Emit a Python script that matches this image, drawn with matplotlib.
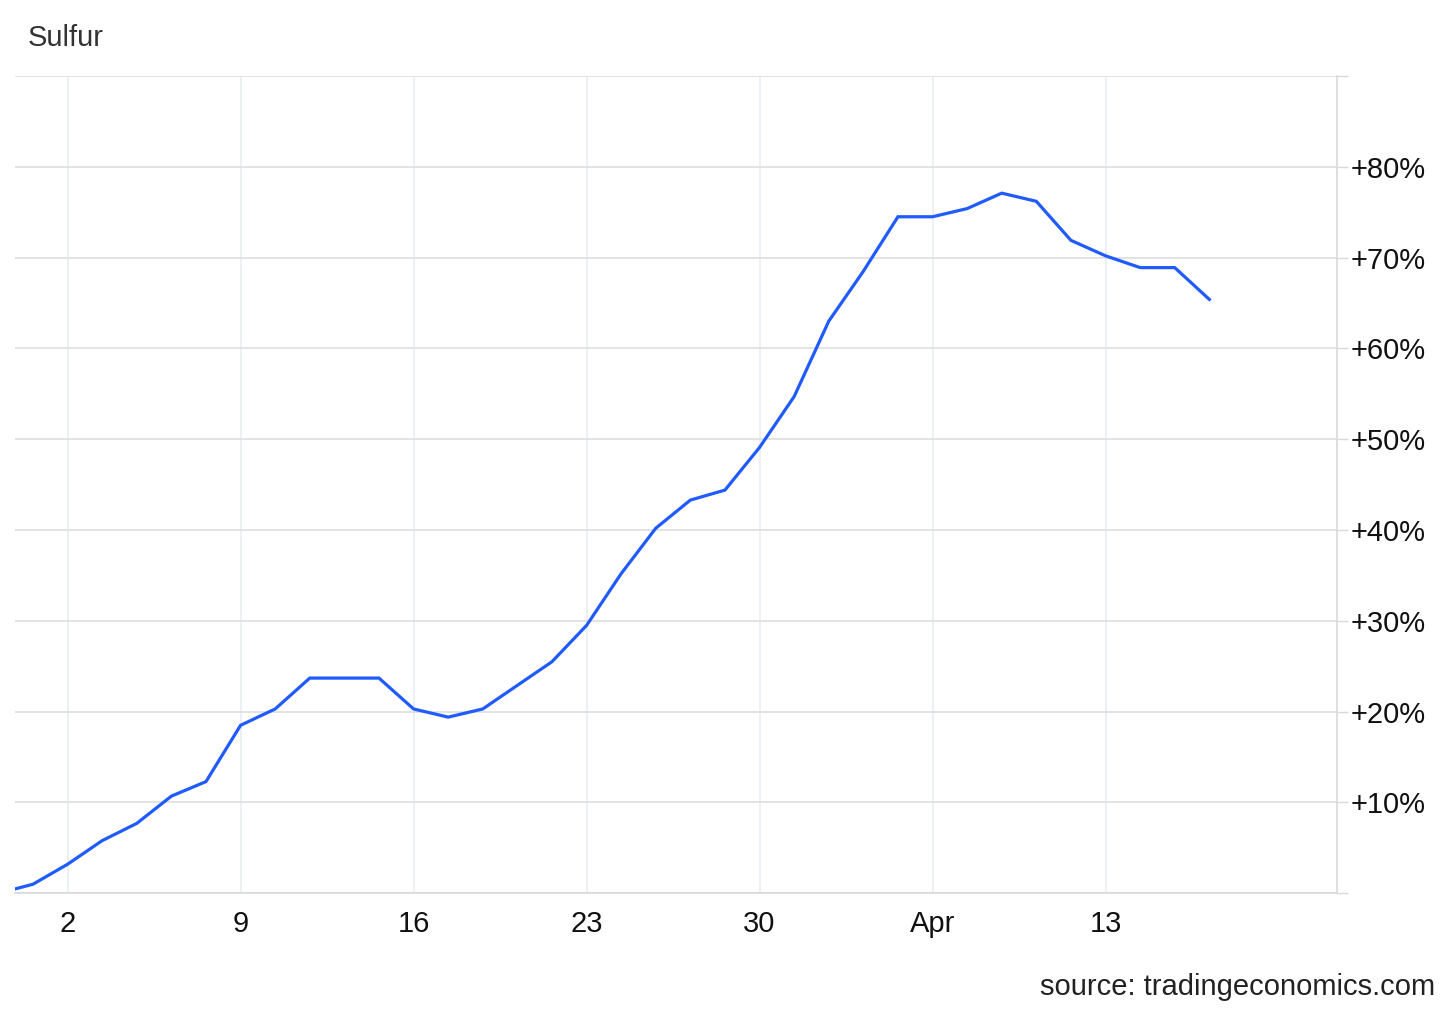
import matplotlib
matplotlib.use("Agg")
import matplotlib.pyplot as plt

plt.rcParams['font.family'] = ['Liberation Sans', 'DejaVu Sans']

# Business-day series (Feb 26 .. Apr 16), percent change
values = [0.0, 1.0, 3.2, 5.8, 7.7, 10.7, 12.3, 18.5, 20.3, 23.7,
          23.7, 23.7, 20.3, 19.4, 20.3, 22.9, 25.5, 29.5, 35.2, 40.2,
          43.3, 44.4, 49.1, 54.7, 63.0, 68.5, 74.5, 74.5, 75.4, 77.1,
          76.2, 71.9, 70.2, 68.9, 68.9, 65.4]
x_tick_pos = [2, 7, 12, 17, 22, 27, 32]
x_tick_labels = ['2', '9', '16', '23', '30', 'Apr', '13']
y_ticks = [0, 10, 20, 30, 40, 50, 60, 70, 80, 90]
y_tick_labels = ['', '+10%', '+20%', '+30%', '+40%', '+50%', '+60%', '+70%', '+80%', '']

W, H = 1456, 1009
fig = plt.figure(figsize=(W / 100, H / 100), dpi=100)
ax = fig.add_axes([15 / W, (H - 893.3) / H, (1337 - 15) / W, (893.3 - 76) / H])

xs = list(range(len(values)))
ax.plot(xs, values, color='#1f5bff', lw=2.3, solid_joinstyle='miter', zorder=3)

ax.set_xlim(0.48, 38.69)
ax.set_ylim(0, 90)

ax.set_xticks(x_tick_pos)
ax.set_xticklabels(x_tick_labels)
ax.set_yticks(y_ticks)
ax.set_yticklabels(y_tick_labels)

ax.yaxis.tick_right()
ax.tick_params(axis='y', which='both', length=8, width=1, color='#d9d9d9',
               labelsize=21, labelcolor='#111111', pad=1.5)
ax.tick_params(axis='x', length=0, labelsize=21, labelcolor='#111111', pad=12)

ax.grid(axis='y', color='#dedede', lw=1.2, zorder=1)
ax.grid(axis='x', color='#e8edf2', lw=1.2, zorder=1)

for s in ['left', 'top']:
    ax.spines[s].set_visible(False)
ax.spines['right'].set_color('#d9d9d9')
ax.spines['right'].set_linewidth(1.2)
ax.spines['bottom'].set_color('#d9d9d9')
ax.spines['bottom'].set_linewidth(1.2)

fig.text(28 / W, 1 - 38 / H, 'Sulfur', fontsize=21, color='#333333',
         ha='left', va='center')
fig.text(1435 / W, 1 - 987 / H, 'source: tradingeconomics.com', fontsize=21,
         color='#222222', ha='right', va='center')

fig.savefig('out.png', dpi=100, facecolor='white')
